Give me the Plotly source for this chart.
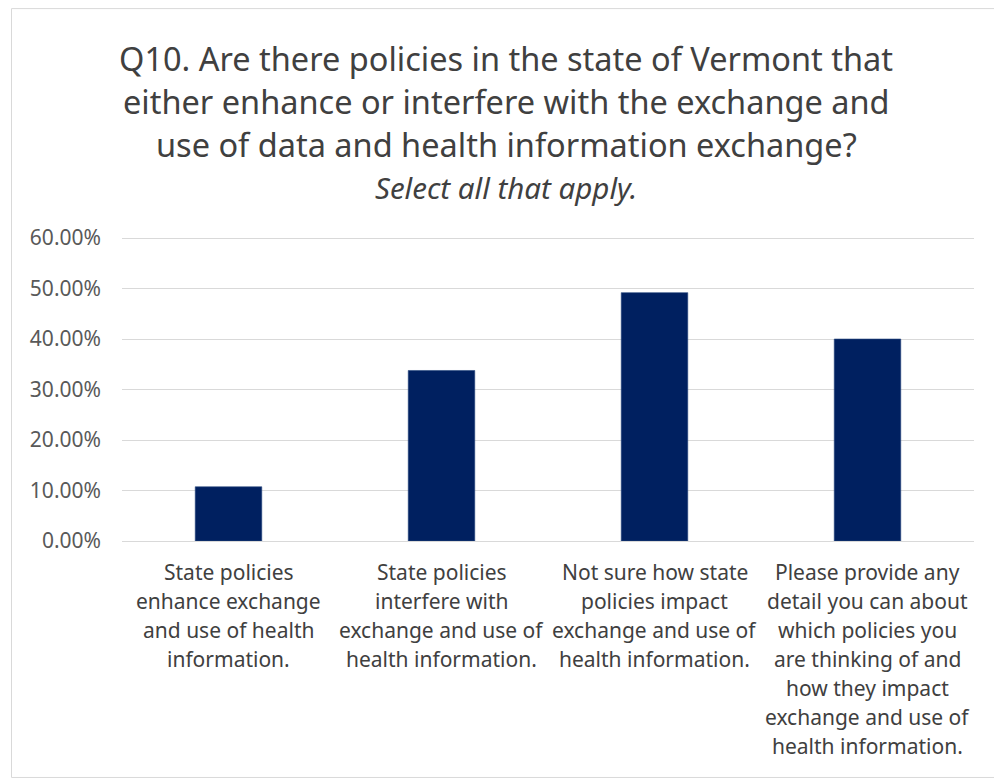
import plotly.graph_objects as go

categories = [
    "State policies<br>enhance exchange<br>and use of health<br>information.",
    "State policies<br>interfere with<br>exchange and use of<br>health information.",
    "Not sure how state<br>policies impact<br>exchange and use of<br>health information.",
    "Please provide any<br>detail you can about<br>which policies you<br>are thinking of and<br>how they impact<br>exchange and use of<br>health information.",
]
values = [0.1074, 0.3377, 0.4919, 0.4000]
y_ticks = [0, 0.1, 0.2, 0.3, 0.4, 0.5, 0.6]
title_lines = [
    "Q10. Are there policies in the state of Vermont that",
    "either enhance or interfere with the exchange and",
    "use of data and health information exchange?",
]
subtitle = "Select all that apply."

OFF = 8  # page body margin
Y_MAX = 0.61
W, H = 1002, 778
PW = 852
PH = 303 * Y_MAX / 0.6
L = 122 - OFF
T = (541 - PH) - OFF
R, B = W - L - PW, H - T - PH

def px(x):
    return (x - OFF - L) / PW

def py(y):
    return (T + PH - (y - OFF)) / PH

FONT = "Noto Sans"

fig = go.Figure()
fig.add_trace(go.Bar(
    x=list(range(len(categories))),
    y=values,
    marker=dict(color="#002060", line=dict(color="#2a4a80", width=0.6)),
    hoverinfo="skip",
))

fig.update_layout(
    width=W, height=H,
    margin=dict(l=L, r=R, t=T, b=B),
    paper_bgcolor="white", plot_bgcolor="white",
    bargap=0.6875,
    showlegend=False,
    font=dict(family=FONT, color="#595959"),
)
fig.update_xaxes(
    tickmode="array",
    tickvals=list(range(len(categories))),
    range=[-0.5, 3.5],
    showticklabels=False,
    showgrid=False, zeroline=False, showline=False, ticks="",
)
fig.update_yaxes(
    range=[0, Y_MAX],
    tickvals=y_ticks,
    tickformat=".2%",
    tickfont=dict(family=FONT, size=21, color="#595959"),
    showgrid=True, gridcolor="#d9d9d9", gridwidth=1.3,
    zeroline=True, zerolinecolor="#d9d9d9", zerolinewidth=1.3,
    showline=False, ticks="", ticklabelstandoff=20,
)

# category labels, one annotation per line for Excel-like line spacing
for i, cat in enumerate(categories):
    for j, line in enumerate(cat.split("<br>")):
        fig.add_annotation(
            text=line, xref="x", yref="paper", x=i, y=py(572 + 29 * j),
            xanchor="center", yanchor="middle", showarrow=False,
            font=dict(family=FONT, size=21, color="#404040"),
        )

title_y = [58, 101, 144]
for line, yy in zip(title_lines, title_y):
    fig.add_annotation(
        text=line, xref="paper", yref="paper", x=px(506), y=py(yy),
        xanchor="center", yanchor="middle", showarrow=False,
        font=dict(family=FONT, size=32.5, color="#404040"),
    )
fig.add_annotation(
    text="<i>" + subtitle + "</i>", xref="paper", yref="paper", x=px(506), y=py(187),
    xanchor="center", yanchor="middle", showarrow=False,
    font=dict(family=FONT, size=29.5, color="#404040"),
)

fig.add_shape(
    type="rect", xref="paper", yref="paper",
    x0=px(11.5), x1=px(1010), y0=py(777.5), y1=py(8.5),
    line=dict(color="#d9d9d9", width=1), layer="below",
)

fig.write_html("out.html")
